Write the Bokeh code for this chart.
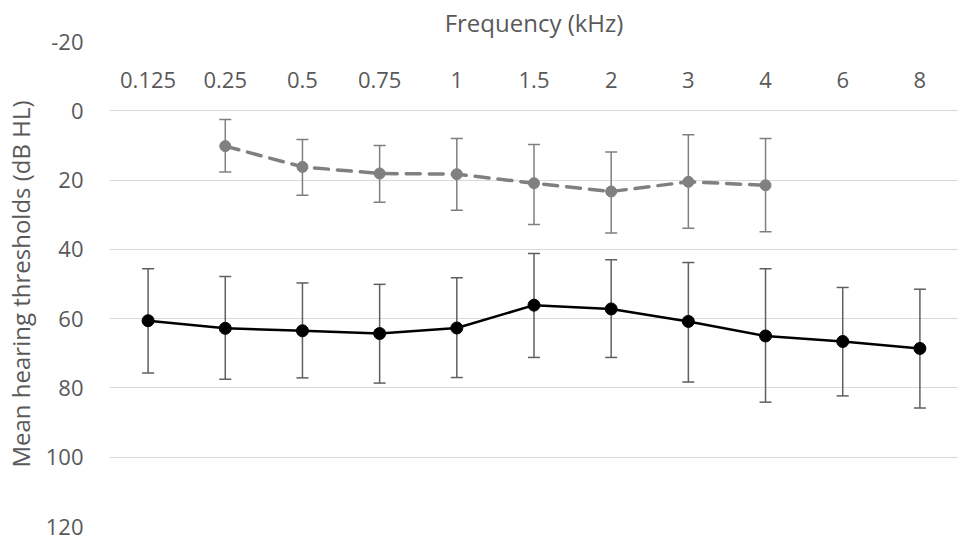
from bokeh.plotting import figure
from bokeh.models import ColumnDataSource, Whisker, TeeHead, FactorRange, Range1d, FixedTicker, CustomJSTickFormatter
from bokeh.core.properties import value
from bokeh.embed import file_html
from bokeh.resources import INLINE

freqs = ["0.125", "0.25", "0.5", "0.75", "1", "1.5", "2", "3", "4", "6", "8"]

gray_freqs = ["0.25", "0.5", "0.75", "1", "1.5", "2", "3", "4"]
gray_mean = [10.2, 16.2, 18.1, 18.3, 20.9, 23.3, 20.5, 21.5]
gray_upper = [17.7, 24.4, 26.4, 28.7, 32.8, 35.3, 33.9, 34.9]
gray_lower = [2.5, 8.3, 10.0, 8.0, 9.7, 11.9, 6.9, 8.0]

black_mean = [60.6, 62.8, 63.5, 64.3, 62.7, 56.1, 57.2, 60.8, 65.0, 66.6, 68.6]
black_upper = [75.7, 77.5, 77.1, 78.6, 77.0, 71.2, 71.2, 78.3, 84.1, 82.3, 85.8]
black_lower = [45.6, 47.8, 49.7, 50.1, 48.2, 41.2, 43.0, 43.8, 45.6, 51.0, 51.5]

y_ticks = [-20, 0, 20, 40, 60, 80, 100, 120]
label_row = -9

FONT = "Open Sans"
TXT = "#595959"

p = figure(width=958, height=541, x_range=FactorRange(*freqs), y_range=Range1d(120, -20),
           output_backend="svg", toolbar_location=None,
           title="Frequency (kHz)",
           min_border_left=108, min_border_right=0, min_border_bottom=15, min_border_top=0)
p.outline_line_color = None
p.title.align = "center"
p.title.text_font = FONT
p.title.text_font_size = "24px"
p.title.text_font_style = "normal"
p.title.text_color = TXT
p.title.standoff = 6

p.xaxis.visible = False
p.xgrid.grid_line_color = None
p.ygrid.grid_line_color = "#d9d9d9"
p.ygrid.grid_line_width = 1

p.yaxis.ticker = FixedTicker(ticks=y_ticks)
p.yaxis.formatter = CustomJSTickFormatter(code="return String(tick);")
p.yaxis.axis_line_color = None
p.yaxis.major_tick_line_color = None
p.yaxis.minor_tick_line_color = None
p.yaxis.major_label_text_font = FONT
p.yaxis.major_label_text_font_size = "22px"
p.yaxis.major_label_text_color = TXT
p.yaxis.major_label_standoff = 20
p.yaxis.axis_label = "Mean hearing thresholds (dB HL)"
p.yaxis.axis_label_text_font = FONT
p.yaxis.axis_label_text_font_size = "24px"
p.yaxis.axis_label_text_font_style = "normal"
p.yaxis.axis_label_text_color = TXT
p.yaxis.axis_label_standoff = 6

lab_src = ColumnDataSource(dict(x=freqs, y=[label_row] * len(freqs), t=freqs))
p.text(x="x", y="y", text="t", source=lab_src, text_align="center", text_baseline="middle",
       text_font=value(FONT), text_font_size="22px", text_color=TXT)

gsrc = ColumnDataSource(dict(x=gray_freqs, y=gray_mean, up=gray_upper, lo=gray_lower))
bsrc = ColumnDataSource(dict(x=freqs, y=black_mean, up=black_upper, lo=black_lower))

gw = Whisker(base="x", upper="up", lower="lo", source=gsrc, dimension="height",
             line_color="#7f7f7f", line_width=1.5, level="underlay",
             upper_head=TeeHead(size=12, line_color="#7f7f7f", line_width=1.5),
             lower_head=TeeHead(size=12, line_color="#7f7f7f", line_width=1.5))
bw = Whisker(base="x", upper="up", lower="lo", source=bsrc, dimension="height",
             line_color="#5f5f5f", line_width=1.5, level="underlay",
             upper_head=TeeHead(size=12, line_color="#5f5f5f", line_width=1.5),
             lower_head=TeeHead(size=12, line_color="#5f5f5f", line_width=1.5))
p.add_layout(gw)
p.add_layout(bw)

p.line(x="x", y="y", source=gsrc, line_color="#808080", line_width=3.5, line_dash="14 9",
       line_cap="round")
p.scatter(x="x", y="y", source=gsrc, size=11, fill_color="#808080", line_color="#808080")

p.line(x="x", y="y", source=bsrc, line_color="black", line_width=2.5)
p.scatter(x="x", y="y", source=bsrc, size=12, fill_color="black", line_color="black")

open("out.html", "w").write(file_html(p, INLINE))
